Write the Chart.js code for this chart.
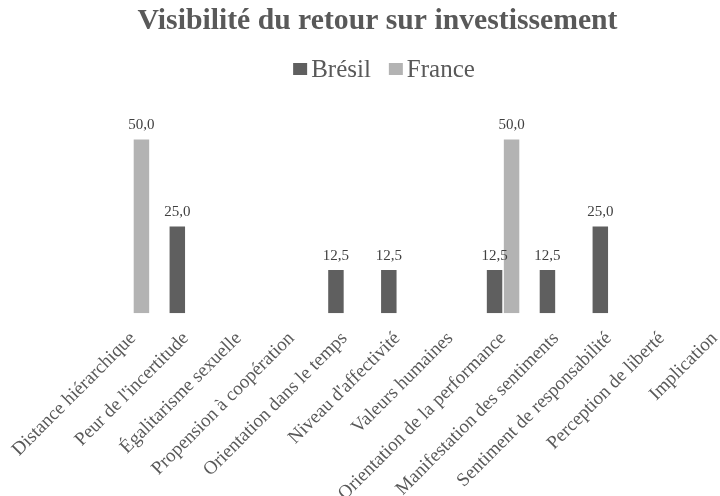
<!DOCTYPE html>
<html lang="fr">
<head>
<meta charset="utf-8">
<title>Visibilité du retour sur investissement</title>
<script src="https://cdn.jsdelivr.net/npm/chart.js@4/dist/chart.umd.min.js"></script>
<style>
    html, body { margin: 0; padding: 0; background: #fff; overflow: hidden; }
    #wrap { position: relative; width: 760px; height: 496px; }
</style>
</head>
<body>
<div id="wrap"><canvas id="roiChart"></canvas></div>
<script>
// Data
const categories = [
    'Distance hiérarchique',
    "Peur de l'incertitude",
    'Égalitarisme sexuelle',
    'Propension à coopération',
    'Orientation dans le temps',
    "Niveau d'affectivité",
    'Valeurs humaines',
    'Orientation de la performance',
    'Manifestation des sentiments',
    'Sentiment de responsabilité',
    'Perception de liberté',
    'Implication'
];
const bresilValues = [0, 25, 0, 0, 12.5, 12.5, 0, 12.5, 12.5, 25, 0, 0];
const franceValues = [50, 0, 0, 0, 0, 0, 0, 50, 0, 0, 0, 0];

const serif = '"Liberation Serif", "Times New Roman", serif';

// Value labels above each non-empty bar
const valueLabels = {
    id: 'valueLabels',
    afterDatasetsDraw(chart) {
        const ctx = chart.ctx;
        ctx.save();
        ctx.font = '15px ' + serif;
        ctx.fillStyle = '#404040';
        ctx.textAlign = 'center';
        ctx.textBaseline = 'alphabetic';
        chart.data.datasets.forEach((ds, i) => {
            const meta = chart.getDatasetMeta(i);
            meta.data.forEach((bar, j) => {
                const v = ds.data[j];
                if (!v) return;
                ctx.fillText(v.toFixed(1).replace('.', ','), bar.x, bar.y - 10);
            });
        });
        ctx.restore();
    }
};

// Compact legend under the title (small gap between swatch and text)
const compactLegend = {
    id: 'compactLegend',
    afterDraw(chart) {
        const ctx = chart.ctx;
        const centerX = 384, baseY = 77;
        const box = 14, gap = 4, itemGap = 18;
        ctx.save();
        ctx.font = '25px ' + serif;
        ctx.textBaseline = 'alphabetic';
        ctx.textAlign = 'left';
        const items = chart.data.datasets.map(ds => ({
            text: ds.label,
            color: ds.backgroundColor,
            w: ctx.measureText(ds.label).width
        }));
        let total = 0;
        items.forEach((it, i) => { total += box + gap + it.w + (i ? itemGap : 0); });
        let x = centerX - total / 2;
        items.forEach(it => {
            ctx.fillStyle = it.color;
            ctx.fillRect(x, baseY - 14, box, 12);
            x += box + gap;
            ctx.fillStyle = '#595959';
            ctx.fillText(it.text, x, baseY);
            x += it.w + itemGap;
        });
        ctx.restore();
    }
};

new Chart(document.getElementById('roiChart'), {
    type: 'bar',
    data: {
        labels: categories,
        datasets: [
            {
                label: 'Brésil',
                data: bresilValues,
                backgroundColor: '#5f5f5f',
                borderWidth: 0,
                categoryPercentage: 0.643,
                barPercentage: 0.91
            },
            {
                label: 'France',
                data: franceValues,
                backgroundColor: '#b3b3b3',
                borderWidth: 0,
                categoryPercentage: 0.643,
                barPercentage: 0.91
            }
        ]
    },
    options: {
        responsive: true,
        maintainAspectRatio: false,
        animation: false,
        layout: { padding: { left: 14, right: 19, top: 0, bottom: -15 } },
        plugins: {
            title: {
                display: true,
                text: 'Visibilité du retour sur investissement',
                color: '#595959',
                font: { family: serif, size: 29.7, weight: 'bold' },
                padding: { top: 4, bottom: 65 }
            },
            legend: { display: false },
            tooltip: { enabled: false }
        },
        scales: {
            x: {
                grid: { display: false },
                border: { display: false },
                ticks: {
                    color: '#595959',
                    font: { family: serif, size: 19 },
                    minRotation: 45,
                    maxRotation: 45,
                    autoSkip: false,
                    padding: 6
                },
                // keep room on the left for the long first label
                afterFit(scale) {
                    scale.paddingLeft = Math.max(scale.paddingLeft, 106.5);
                }
            },
            y: {
                display: false,
                min: 0,
                max: 60
            }
        }
    },
    plugins: [valueLabels, compactLegend]
});
</script>
</body>
</html>
